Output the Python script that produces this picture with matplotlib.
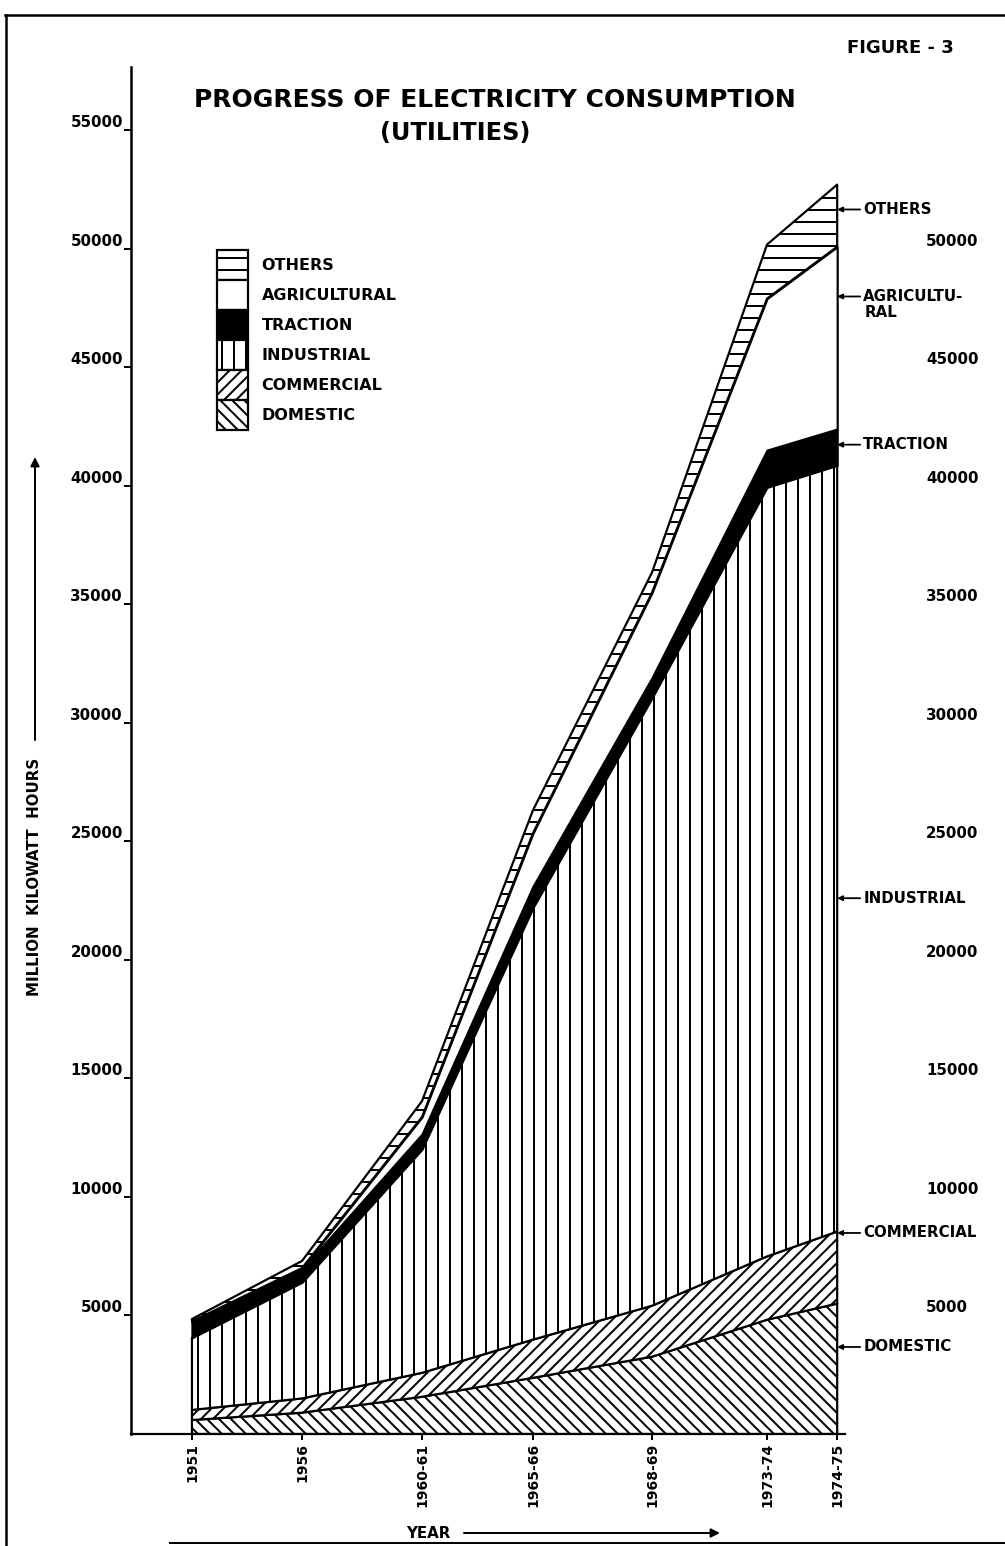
import matplotlib.pyplot as plt
from matplotlib.lines import Line2D

plt.rcParams['font.family'] = ['DejaVu Sans']
plt.rcParams['font.weight'] = 'bold'
plt.rcParams['hatch.linewidth'] = 2.0

# data (million kWh)
years = ['1951', '1956', '1960-61', '1965-66', '1968-69', '1973-74', '1974-75']
domestic = [590, 900, 1570, 2370, 3260, 4820, 5500]
commercial = [425, 600, 1010, 1610, 2150, 2670, 3040]
industrial = [3045, 4900, 9430, 18220, 25640, 32440, 32320]
traction = [640, 550, 640, 900, 850, 1570, 1530]
agricultural = [50, 50, 720, 2240, 3590, 6390, 7690]
others = [100, 300, 670, 970, 850, 2280, 2620]

left_ticks = [5000, 10000, 15000, 20000, 25000, 30000, 35000, 40000, 45000, 50000, 55000]
right_ticks = [5000, 10000, 15000, 20000, 25000, 30000, 35000, 40000, 45000, 50000]

# the year axis in the original is not evenly spaced
xpos = [0, 0.957, 2.0, 2.965, 4.0, 5.0, 5.61]

W, H = 1005, 1546
fig = plt.figure(figsize=(W / 72, H / 72), dpi=72)
ax = fig.add_axes([131 / W, (H - 1434) / H, (845 - 131) / W, (1434 - 67) / H])

layers = [
    ('DOMESTIC', domestic, 'white', '\\\\'),
    ('COMMERCIAL', commercial, 'white', '//'),
    ('INDUSTRIAL', industrial, 'white', '|'),
    ('TRACTION', traction, 'black', None),
    ('AGRICULTURAL', agricultural, 'white', None),
    ('OTHERS', others, 'white', '-'),
]

base = [0] * len(xpos)
handles = []
for name, vals, fc, hatch in layers:
    top = [b + v for b, v in zip(base, vals)]
    h = ax.fill_between(xpos, base, top, facecolor=fc, edgecolor='black',
                        hatch=hatch, linewidth=2.2, label=name)
    handles.append(h)
    base = top

ax.set_xlim(-0.53, 5.678)
ax.set_ylim(0, 57660)

for s in ['top', 'right']:
    ax.spines[s].set_visible(False)
ax.spines['left'].set_linewidth(2.5)
ax.spines['bottom'].set_linewidth(2.2)

ax.set_yticks(left_ticks)
ax.set_yticklabels([str(t) for t in left_ticks], fontsize=15)
ax.tick_params(axis='y', length=7, width=2, pad=1)
plt.setp(ax.get_yticklabels(), va='bottom')

ax.set_xticks(xpos)
ax.set_xticklabels(years, rotation=90, fontsize=14, va='top')
ax.tick_params(axis='x', length=6, width=2, pad=3)

# right-hand value labels
ax2 = ax.twinx()
ax2.set_ylim(ax.get_ylim())
for s in ax2.spines.values():
    s.set_visible(False)
ax2.spines['right'].set_position(('axes', (926 - 131) / (845 - 131)))
ax2.set_yticks(right_ticks)
ax2.set_yticklabels([str(t) for t in right_ticks], fontsize=15)
ax2.tick_params(axis='y', length=0, pad=0)
plt.setp(ax2.get_yticklabels(), va='bottom')

# arrows naming the bands at the right edge
label_names = ['OTHERS', 'AGRICULTU-', 'TRACTION', 'INDUSTRIAL', 'COMMERCIAL', 'DOMESTIC']
label_y = [51650, 47980, 41730, 22600, 8480, 3670]
for name, yv in zip(label_names, label_y):
    ax.annotate(name, xy=(xpos[-1], yv), xytext=(26, 0), textcoords='offset points',
                ha='left', va='center', fontsize=15, annotation_clip=False,
                arrowprops=dict(arrowstyle='-|>', color='black', lw=1.8,
                                shrinkA=1, shrinkB=0, mutation_scale=10))
ax.annotate('RAL', xy=(xpos[-1], label_y[1]), xytext=(27, -16), textcoords='offset points',
            ha='left', va='center', fontsize=15, annotation_clip=False)

leg = ax.legend(handles[::-1], [l[0] for l in layers[::-1]], loc='upper left',
                bbox_to_anchor=(217 / W, 1 - 250 / H), bbox_transform=fig.transFigure,
                frameon=False, fontsize=16, handlelength=1.94, handleheight=2.51,
                labelspacing=0, handletextpad=0.85, borderpad=0, borderaxespad=0)

# titles
fig.text(495 / W, 1 - 100 / H, 'PROGRESS OF ELECTRICITY CONSUMPTION',
         ha='center', va='center', fontsize=25)
fig.text(455 / W, 1 - 133 / H, '(UTILITIES)', ha='center', va='center', fontsize=24)
fig.text(900 / W, 1 - 48 / H, 'FIGURE - 3', ha='center', va='center', fontsize=18)

# axis captions with arrows
fig.text(35 / W, 1 - 877 / H, 'MILLION  KILOWATT  HOURS', rotation=90,
         ha='center', va='center', fontsize=15)
ax.annotate('', xy=(35 / W, 1 - 455 / H), xytext=(35 / W, 1 - 742 / H),
            xycoords='figure fraction', textcoords='figure fraction',
            arrowprops=dict(arrowstyle='-|>', color='black', lw=2, mutation_scale=18))
fig.text(428 / W, 1 - 1533 / H, 'YEAR', ha='center', va='center', fontsize=15)
ax.annotate('', xy=(722 / W, 1 - 1533 / H), xytext=(462 / W, 1 - 1533 / H),
            xycoords='figure fraction', textcoords='figure fraction',
            arrowprops=dict(arrowstyle='-|>', color='black', lw=2, mutation_scale=18))

# page frame of the scan
fig.add_artist(Line2D([5 / W, 1], [1 - 15 / H, 1 - 15 / H], color='black', lw=2.5,
                      transform=fig.transFigure))
fig.add_artist(Line2D([6 / W, 6 / W], [1 - 15 / H, 0], color='black', lw=2.5,
                      transform=fig.transFigure))
fig.add_artist(Line2D([170 / W, 1], [1 - 1543 / H, 1 - 1543 / H], color='black', lw=2,
                      transform=fig.transFigure))

fig.savefig('out.png', dpi=72)
